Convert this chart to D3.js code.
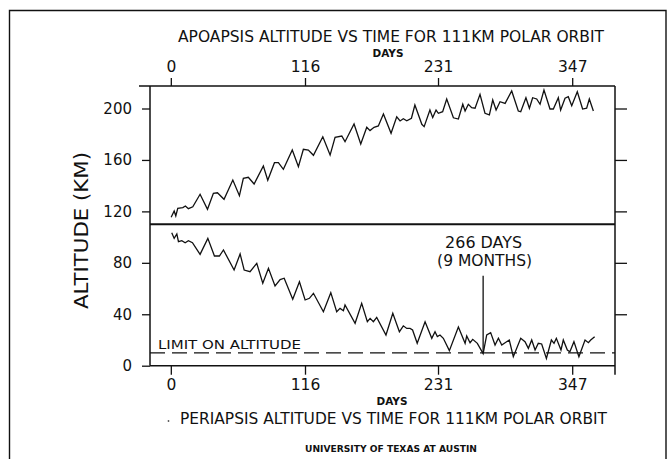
<!DOCTYPE html>
<html>
<head>
<meta charset="utf-8">
<script src="https://cdn.jsdelivr.net/npm/d3@7"></script>
<style>
  html, body { margin: 0; padding: 0; background: #fff; }
  svg { display: block; }
  text { font-family: "DejaVu Sans", "Liberation Sans", sans-serif; fill: #111; }
</style>
</head>
<body>
<svg id="chart" width="669" height="459"></svg>
<script>
// ---- data ----
const apoDays = [0.3,2.9,4.3,6,10.4,12.6,15.2,19,25.3,31.7,36.8,40.3,46,53.6,59.3,62.7,67,72,80,83.8,89.6,93,97.3,105,110.3,114.6,118.9,123.3,131.4,137.7,142,147.8,150.6,158.4,164.2,169.4,172.2,175.7,179.4,183.8,190.4,195.3,198.2,201,204,208,211,217,219,224,226.4,229.3,231.3,235,238.5,244.3,248.6,252.4,254.4,257.2,260.1,263,267.3,271.6,275.4,278.3,281.2,284.6,289,294.7,300.4,302.5,307,310,312.8,316.3,319.2,322.6,327.8,330.7,335,337,340.8,343.6,346.6,351.4,356,359.5,361.8,365.3];
const apoKm   = [115.4,120.3,116.4,122.4,122.9,124.2,122.1,123.6,133.3,121.6,134,134.5,129.4,144.4,132.2,145.7,146.5,141.3,155.3,144.2,157.9,157.9,152.7,167.7,154.7,168.3,167.7,163.6,178,163.8,177.6,178.6,174.2,188,172.4,185.4,182.8,185.4,186.4,195.7,180.7,193.6,190.3,192,190.5,192.4,202.7,187.7,185.9,198.8,192.9,198.8,196.3,197.5,207.4,192.8,191.8,203.3,198,203.3,200.6,200.2,211,196.3,195,206.6,198.8,205.3,204,213.6,198,197.5,208.4,200.2,208.4,207.4,203.3,214.4,199.6,199.6,208.4,198.8,208,209.2,202.2,213,199.6,200.2,207.4,198];

const periDays = [0.8,2.9,5.2,6.6,9.5,12.4,15.2,18.7,25.3,32,37.7,42,45.5,54.7,59.9,63.4,68.5,74.3,79.5,84.4,90.1,94.5,98,105.4,111.2,116.1,119.8,123.3,131.9,138.3,143.4,146.3,149.2,150.6,159.3,165,169.9,172.3,175.1,178,186,191.9,197.6,201,204,206.8,209,213,219.8,225.6,228.4,230.4,232.7,235.6,240.8,248.6,254.4,255.8,258.7,261,265,270,273.1,276.5,280.3,283.2,286.1,289,292.6,296.1,302.5,306.2,309.1,312,314.9,317.7,320.6,324.7,329,331.3,333.3,337.3,339.3,342.8,345,348.5,352.8,358.1,361,363,366.4];
const periKm   = [103.4,99,102.4,96.4,97.2,95.6,97.2,95.6,86.6,99,85.3,85.3,90,74.4,86.9,74.4,73.1,79.6,64.1,75.7,62,67,68,51.6,65.3,51.1,52.4,56.3,42,56.8,42,44.6,42.8,47.2,33,48.5,34.2,36.8,34.2,37.6,23.9,40.7,26.4,31,29,29,27.8,17.4,34.2,21.3,26.4,22.6,23.9,21.3,11.7,30,17.4,23.1,17.9,20.5,17.4,9.4,23.9,25.7,16.1,21.3,16.1,17.9,20,7,21.3,18.7,13.5,20,12.2,17.4,16.9,5.7,20,17.4,21.3,12.2,20,12.2,10.9,18.7,7,20,17.9,20,22.6];

const dayTicks = [0, 116, 231, 347];
const altTicks = [0, 40, 80, 120, 160, 200];
const rightTicks = [40, 80, 120, 160, 200];
const separatorKm = 110;
const limitKm = 10;
const markerDay = 270;
const markerKm = [10, 70];

const topTitle = "APOAPSIS ALTITUDE VS TIME FOR 111KM POLAR ORBIT";
const bottomTitle = "PERIAPSIS ALTITUDE VS TIME FOR 111KM POLAR ORBIT";
const axisName = "DAYS";
const yTitle = "ALTITUDE (KM)";
const markerLabel = ["266 DAYS", "(9 MONTHS)"];
const limitLabel = "LIMIT ON ALTITUDE";
const credit = "UNIVERSITY OF TEXAS AT AUSTIN";

// ---- layout ----
const svg = d3.select("#chart");
const ink = "#111";
const x = d3.scaleLinear().domain([-18, 384]).range([150, 615]);
const y = d3.scaleLinear().domain([0, 217.5]).range([365.7, 86]);

// outer border
svg.append("path")
  .attr("d", "M9.5,470 L9.5,10.5 L666,10.5 L666,470")
  .attr("fill", "none").attr("stroke", ink).attr("stroke-width", 1.4);

// axes
const axBottom = svg.append("g").attr("transform", `translate(0,${y(0)})`)
  .call(d3.axisBottom(x).tickValues(dayTicks).tickFormat(d3.format("d")).tickSize(9).tickSizeOuter(0).tickPadding(4));
const axTop = svg.append("g").attr("transform", `translate(0,${y.range()[1]})`)
  .call(d3.axisTop(x).tickValues(dayTicks).tickFormat(d3.format("d")).tickSize(8).tickSizeOuter(0).tickPadding(6));
const axLeft = svg.append("g").attr("transform", `translate(${x.range()[0]},0)`)
  .call(d3.axisLeft(y).tickValues(altTicks).tickSize(8).tickSizeOuter(0).tickPadding(10));
const axRight = svg.append("g").attr("transform", `translate(${x.range()[1]},0)`)
  .call(d3.axisRight(y).tickValues(rightTicks).tickFormat("").tickSize(12).tickSizeOuter(0));

[axBottom, axTop, axLeft, axRight].forEach(g => {
  g.select(".domain").remove();
  g.selectAll("line").attr("stroke", ink).attr("stroke-width", 1.3);
  g.selectAll("text").attr("fill", ink).style("font-size", "15.5px")
    .style("font-family", "'DejaVu Sans', sans-serif");
});
axLeft.selectAll("text").style("font-size", "15px");

// frame
const fr = svg.append("g").attr("stroke", ink).attr("stroke-width", 1.5).attr("fill", "none");
fr.append("line").attr("x1", x.range()[0] - 11).attr("x2", x.range()[1]).attr("y1", y.range()[1]).attr("y2", y.range()[1]);
fr.append("line").attr("x1", x.range()[0]).attr("x2", x.range()[1]).attr("y1", y(0)).attr("y2", y(0));
fr.append("line").attr("x1", x.range()[0]).attr("x2", x.range()[0]).attr("y1", y.range()[1]).attr("y2", y(0));
fr.append("line").attr("x1", x.range()[1]).attr("x2", x.range()[1]).attr("y1", y.range()[1]).attr("y2", y(0) + 9);

// separator line at 110 km
svg.append("line").attr("x1", x.range()[0]).attr("x2", x.range()[1])
  .attr("y1", y(separatorKm)).attr("y2", y(separatorKm))
  .attr("stroke", ink).attr("stroke-width", 1.8);

// limit dashed line
svg.append("line").attr("x1", x.range()[0]).attr("x2", x.range()[1])
  .attr("y1", y(limitKm)).attr("y2", y(limitKm))
  .attr("stroke", ink).attr("stroke-width", 1.3).attr("stroke-dasharray", "15,7");

// series
const line = d3.line().x(d => x(d[0])).y(d => y(d[1]));
const apo = apoDays.map((d, i) => [d, apoKm[i]]);
const peri = periDays.map((d, i) => [d, periKm[i]]);
[apo, peri].forEach(s => {
  svg.append("path").datum(s).attr("d", line)
    .attr("fill", "none").attr("stroke", ink).attr("stroke-width", 1.3)
    .attr("stroke-linejoin", "miter");
});

// marker
svg.append("line").attr("x1", x(markerDay)).attr("x2", x(markerDay))
  .attr("y1", y(markerKm[0])).attr("y2", y(markerKm[1]))
  .attr("stroke", ink).attr("stroke-width", 1.3);
svg.append("text").attr("x", x(markerDay) + 0.5).attr("y", 248).attr("text-anchor", "middle")
  .attr("textLength", 77).attr("lengthAdjust", "spacingAndGlyphs")
  .style("font-size", "15px").text(markerLabel[0]);
svg.append("text").attr("x", x(markerDay) + 1.5).attr("y", 265.5).attr("text-anchor", "middle")
  .attr("textLength", 95).attr("lengthAdjust", "spacingAndGlyphs")
  .style("font-size", "15px").text(markerLabel[1]);

// limit label
svg.append("text").attr("x", 158).attr("y", 348.5)
  .attr("textLength", 143).attr("lengthAdjust", "spacingAndGlyphs")
  .style("font-size", "13px").text(limitLabel);

// titles
svg.append("text").attr("x", 178).attr("y", 41.7)
  .attr("textLength", 426).attr("lengthAdjust", "spacingAndGlyphs")
  .style("font-size", "15.5px").text(topTitle);
svg.append("text").attr("x", 388).attr("y", 56.7).attr("text-anchor", "middle")
  .attr("textLength", 31).attr("lengthAdjust", "spacingAndGlyphs")
  .style("font-size", "10.5px").style("font-weight", "bold").text(axisName);
svg.append("text").attr("x", 392).attr("y", 405).attr("text-anchor", "middle")
  .attr("textLength", 31).attr("lengthAdjust", "spacingAndGlyphs")
  .style("font-size", "10.5px").style("font-weight", "bold").text(axisName);
svg.append("text").attr("x", 180).attr("y", 424)
  .attr("textLength", 427).attr("lengthAdjust", "spacingAndGlyphs")
  .style("font-size", "15.5px").text(bottomTitle);
svg.append("circle").attr("cx", 168.5).attr("cy", 421).attr("r", 0.9).attr("fill", "#555");
svg.append("text").attr("x", 305).attr("y", 452)
  .attr("textLength", 172).attr("lengthAdjust", "spacingAndGlyphs")
  .style("font-size", "8.5px").style("font-weight", "bold").text(credit);

// y title
svg.append("text").attr("transform", "translate(87.5,230.5) rotate(-90)")
  .attr("text-anchor", "middle")
  .attr("textLength", 157).attr("lengthAdjust", "spacingAndGlyphs")
  .style("font-size", "20px").text(yTitle);
</script>
</body>
</html>
